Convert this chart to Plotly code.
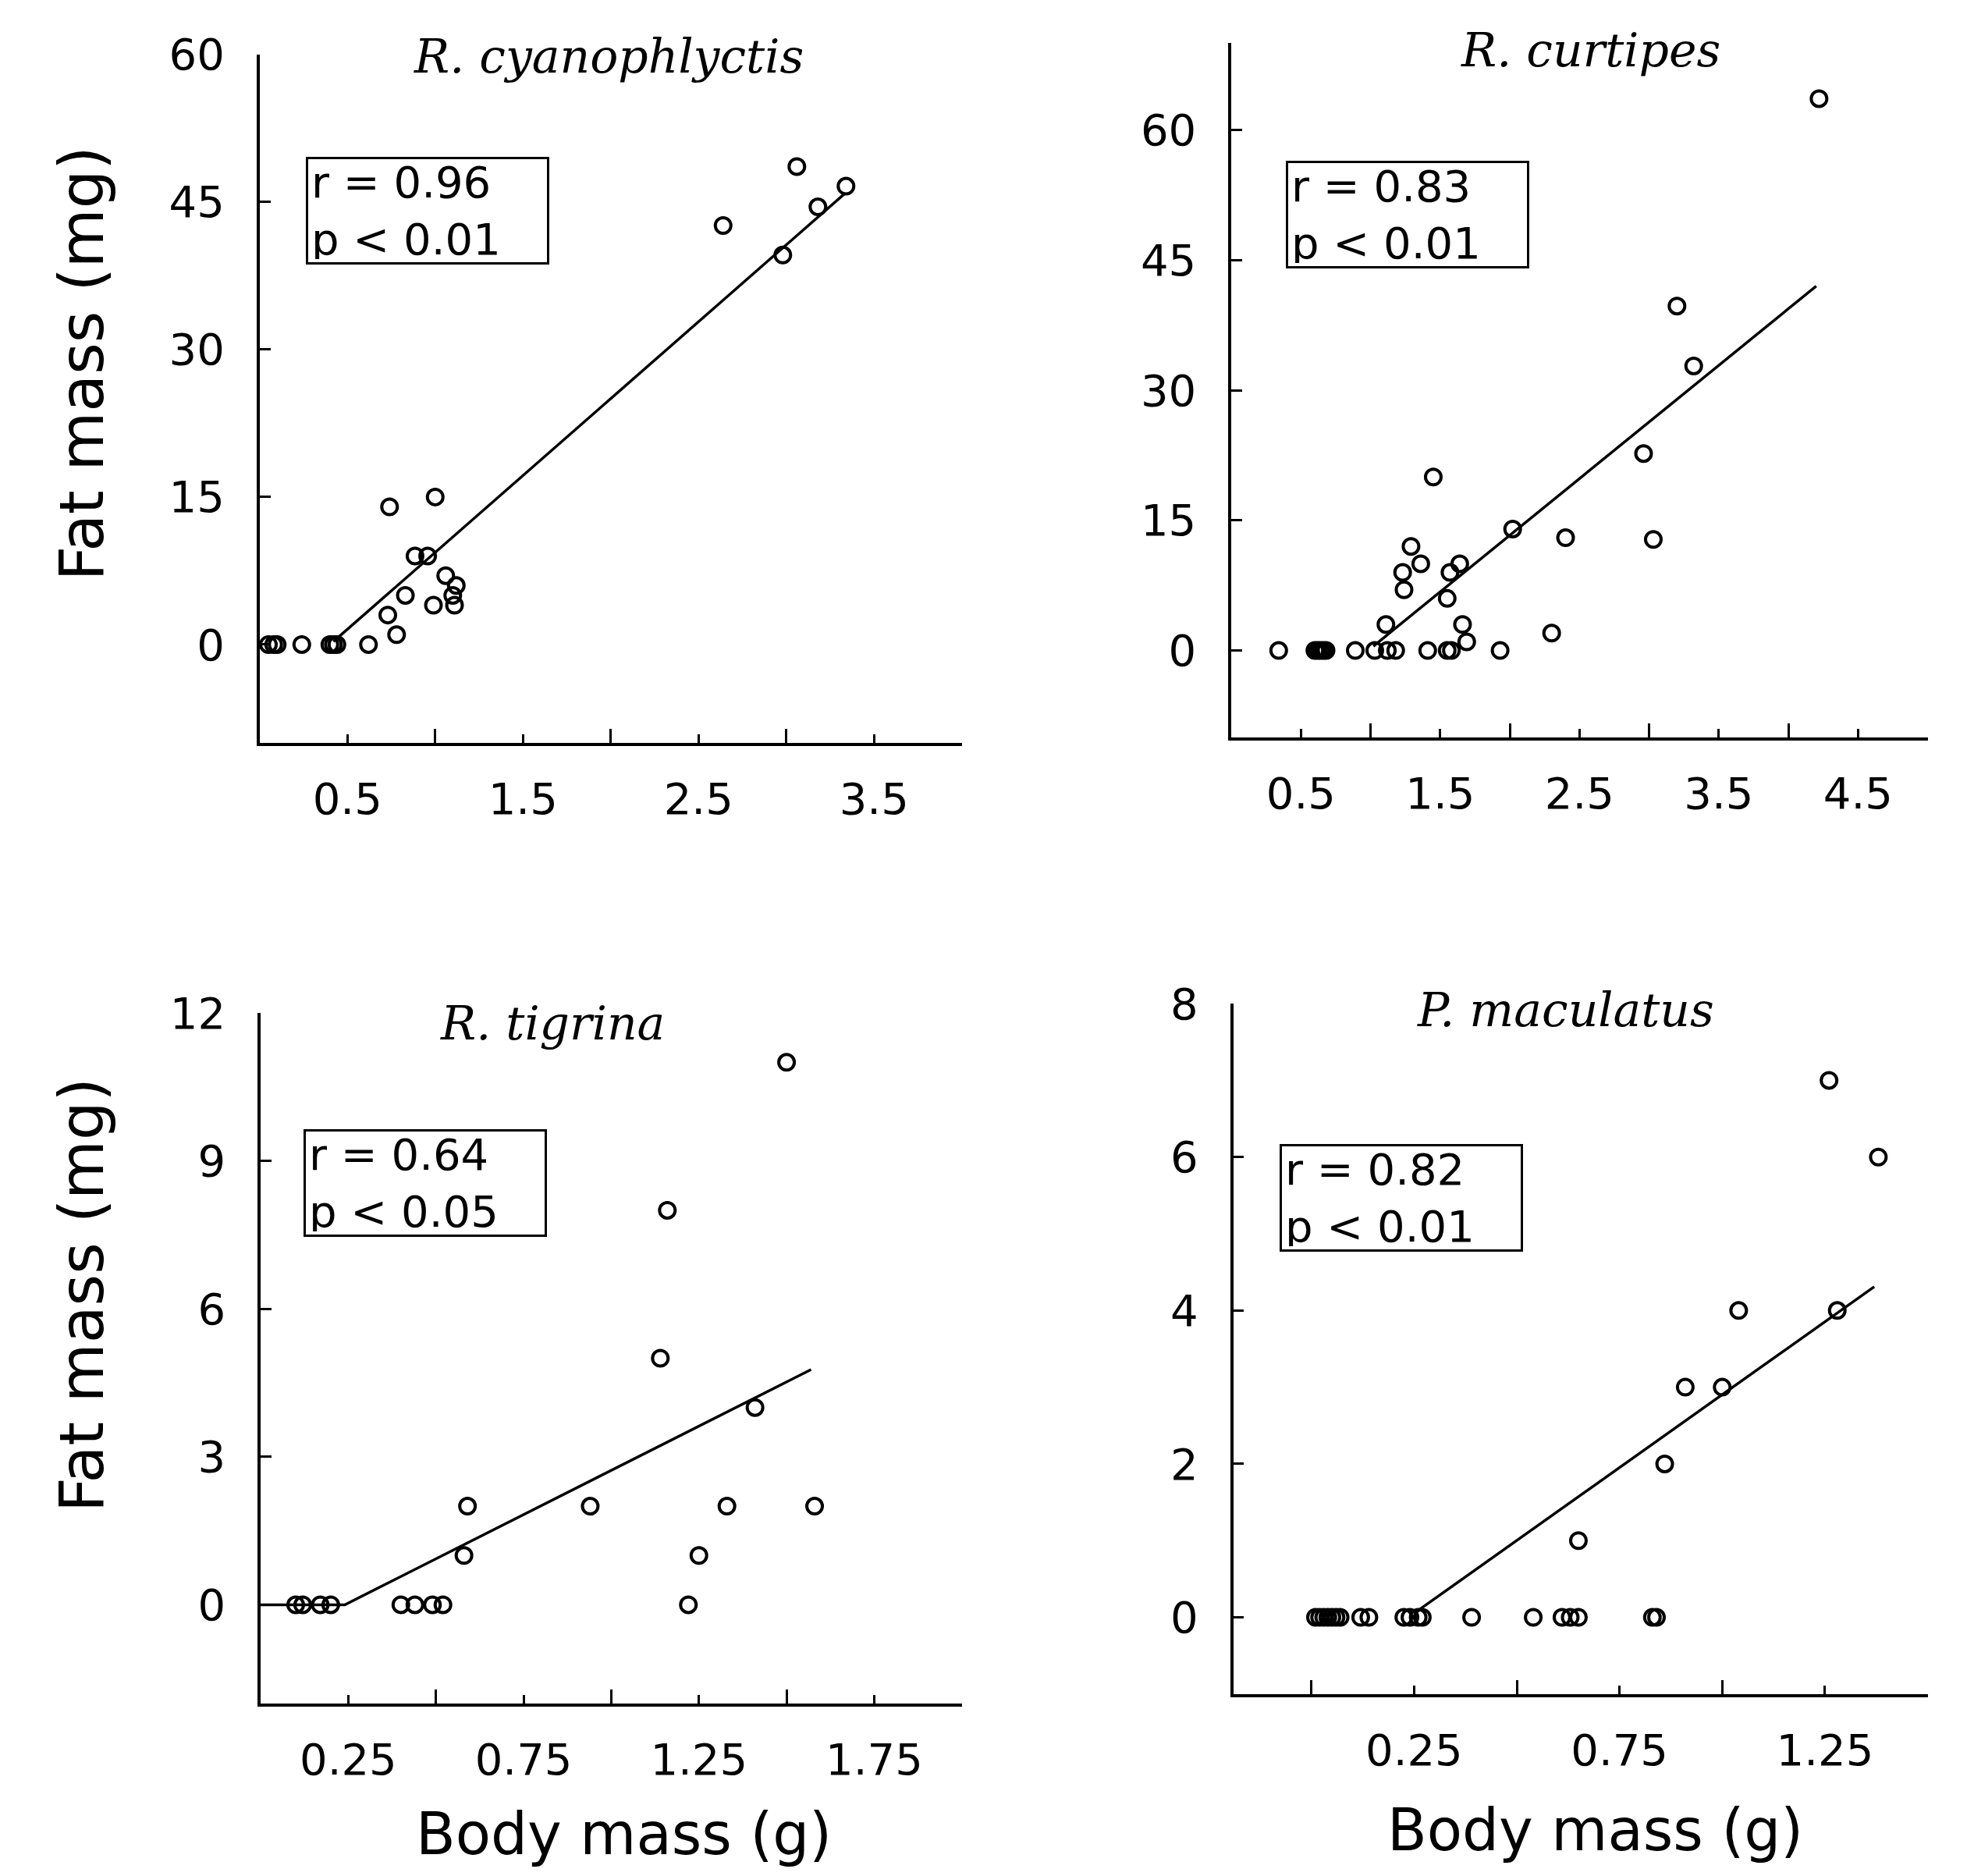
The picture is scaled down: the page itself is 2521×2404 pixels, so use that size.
import plotly.graph_objects as go

# ---------------- data ----------------
cy_x = [0.05, 0.08, 0.10, 0.24, 0.40, 0.42, 0.44, 0.62, 0.73, 0.78, 0.74, 0.83, 0.885, 0.957, 1.00, 0.99, 1.06, 1.12, 1.10, 1.11, 2.64, 2.98, 3.06, 3.18, 3.34]
cy_y = [0, 0, 0, 0, 0, 0, 0, 0, 3, 1, 14, 5, 9, 9, 15, 4, 7, 6, 5, 4, 42.6, 39.6, 48.6, 44.5, 46.6]
cy_fit_x = [0.42, 3.33]
cy_fit_y = [0.3, 45.8]

cu_x = [0.34, 0.60, 0.62, 0.64, 0.66, 0.68, 0.89, 1.03, 1.12, 1.18, 1.11, 1.23, 1.24, 1.29, 1.36, 1.45, 1.41, 1.55, 1.58, 1.55, 1.57, 1.64, 1.66, 1.69, 1.93, 2.02, 2.30, 2.40, 2.96, 3.03, 3.20, 3.32, 4.22]
cu_y = [0, 0, 0, 0, 0, 0, 0, 0, 0, 0, 3, 9, 7, 12, 10, 20, 0, 0, 0, 6, 9, 10, 3, 1, 0, 14, 2, 13, 22.7, 12.8, 39.7, 32.8, 63.6]
cu_fit_x = [1.02, 4.20]
cu_fit_y = [0.5, 42.0]

ti_x = [0.10, 0.12, 0.17, 0.20, 0.40, 0.44, 0.49, 0.52, 0.58, 0.59, 0.94, 1.14, 1.16, 1.22, 1.25, 1.33, 1.41, 1.50, 1.58]
ti_y = [0, 0, 0, 0, 0, 0, 0, 0, 1, 2, 2, 5, 8, 0, 1, 2, 4, 11, 2]
ti_fit_x = [0.0, 0.24, 1.57]
ti_fit_y = [0.0, 0.0, 4.77]

ma_x = [0.01, 0.02, 0.03, 0.04, 0.05, 0.06, 0.07, 0.12, 0.14, 0.225, 0.24, 0.26, 0.27, 0.39, 0.54, 0.61, 0.63, 0.65, 0.83, 0.84, 0.65, 0.86, 0.91, 1.00, 1.04, 1.26, 1.28, 1.38]
ma_y = [0, 0, 0, 0, 0, 0, 0, 0, 0, 0, 0, 0, 0, 0, 0, 0, 0, 0, 0, 0, 1, 2, 3, 3, 4, 7, 4, 6]
ma_fit_x = [0.26, 1.37]
ma_fit_y = [0.09, 4.31]

species = ["R. cyanophlyctis", "R. curtipes", "R. tigrina", "P. maculatus"]
stats = [("0.96", "0.01"), ("0.83", "0.01"), ("0.64", "0.05"), ("0.82", "0.01")]

x_label_ticks = [[0.5, 1.5, 2.5, 3.5], [0.5, 1.5, 2.5, 3.5, 4.5], [0.25, 0.75, 1.25, 1.75], [0.25, 0.75, 1.25]]
x_big_ticks = [[1, 2, 3, 4], [1, 2, 3, 4, 5], [0.5, 1.0, 1.5, 2.0], [0, 0.5, 1.0, 1.5]]
y_ticks = [[0, 15, 30, 45, 60], [0, 15, 30, 45, 60], [0, 3, 6, 9, 12], [0, 2, 4, 6, 8]]
x_ranges = [[0, 4], [0, 5], [0, 2], [-0.19, 1.5]]
y_ranges = [[-10, 60], [-10, 70], [-2, 12], [-1, 8]]

x_title = "Body mass (g)"
y_title = "Fat mass (mg)"

# ---------------- layout geometry ----------------
W, H = 2521, 2404
x_domains = [[0.132, 0.489], [0.626, 0.980], [0.1325, 0.489], [0.627, 0.980]]
y_domains = [[0.604, 0.971], [0.607, 0.977], [0.092, 0.460], [0.097, 0.465]]
title_pos = [(0.3094, 0.970), (0.8085, 0.9734), (0.2808, 0.4547), (0.7960, 0.4617)]
box_pos = [(0.1555, 0.9164), (0.6537, 0.9143), (0.1543, 0.3981), (0.6505, 0.3902)]

series = [(cy_x, cy_y, cy_fit_x, cy_fit_y), (cu_x, cu_y, cu_fit_x, cu_fit_y),
          (ti_x, ti_y, ti_fit_x, ti_fit_y), (ma_x, ma_y, ma_fit_x, ma_fit_y)]

TICKFONT = dict(family="DejaVu Sans", size=56, color="black")

fig = go.Figure()
layout = dict(
    width=W, height=H, margin=dict(l=0, r=0, t=0, b=0, autoexpand=False),
    paper_bgcolor="white", plot_bgcolor="white", showlegend=False,
)
annotations = []

for i, (sx, sy, fx, fy) in enumerate(series):
    n = "" if i == 0 else str(i + 1)
    xa, ya = "x" + n, "y" + n
    fig.add_trace(go.Scatter(x=fx, y=fy, mode="lines", xaxis=xa, yaxis=ya,
                             line=dict(color="black", width=3.5)))
    fig.add_trace(go.Scatter(x=sx, y=sy, mode="markers", xaxis=xa, yaxis=ya, cliponaxis=False,
                             marker=dict(symbol="circle-open", size=20, color="black",
                                         line=dict(color="black", width=4))))
    layout["xaxis" + n] = dict(
        domain=x_domains[i], range=x_ranges[i], anchor=ya, automargin=False,
        showline=True, linecolor="black", linewidth=3.5, showgrid=False, zeroline=False,
        tickmode="array", tickvals=x_label_ticks[i], ticktext=[f"{v:g}" for v in x_label_ticks[i]],
        ticks="inside", ticklen=11, tickwidth=3, tickcolor="black",
        minor=dict(tickmode="array", tickvals=x_big_ticks[i], ticks="inside", ticklen=18,
                   tickwidth=3, tickcolor="black", showgrid=False),
        tickfont=TICKFONT, ticklabelstandoff=20,
    )
    layout["yaxis" + n] = dict(
        domain=y_domains[i], range=y_ranges[i], anchor=xa, automargin=False,
        showline=True, linecolor="black", linewidth=3.5, showgrid=False, zeroline=False,
        tickmode="array", tickvals=y_ticks[i], ticktext=[str(v) for v in y_ticks[i]],
        ticks="inside", ticklen=14, tickwidth=3, tickcolor="black",
        tickfont=TICKFONT, ticklabelstandoff=30,
    )
    tx, ty = title_pos[i]
    annotations.append(dict(xref="paper", yref="paper", x=tx, y=ty, xanchor="center", yanchor="middle",
                            text=species[i], showarrow=False,
                            font=dict(family="DejaVu Serif", size=60, color="black", style="italic")))
    bx, by = box_pos[i]
    r, p = stats[i]
    annotations.append(dict(xref="paper", yref="paper", x=bx, y=by, xanchor="left", yanchor="top",
                            text=f"r = {r}<br>p < {p}", showarrow=False, align="left",
                            width=298, height=124, borderpad=4, bordercolor="black", borderwidth=3,
                            bgcolor="white",
                            font=dict(family="DejaVu Sans", size=56, color="black")))

# axis titles
for (x, y) in [(0.0417, 0.806), (0.0417, 0.3095)]:
    annotations.append(dict(xref="paper", yref="paper", x=x, y=y, xanchor="center", yanchor="middle",
                            text=y_title, textangle=-90, showarrow=False,
                            font=dict(family="DejaVu Sans", size=78, color="black")))
for (x, y) in [(0.317, 0.0225), (0.811, 0.0245)]:
    annotations.append(dict(xref="paper", yref="paper", x=x, y=y, xanchor="center", yanchor="middle",
                            text=x_title, showarrow=False,
                            font=dict(family="DejaVu Sans", size=74, color="black")))

layout["annotations"] = annotations
fig.update_layout(**layout)
fig.write_html("out.html")
